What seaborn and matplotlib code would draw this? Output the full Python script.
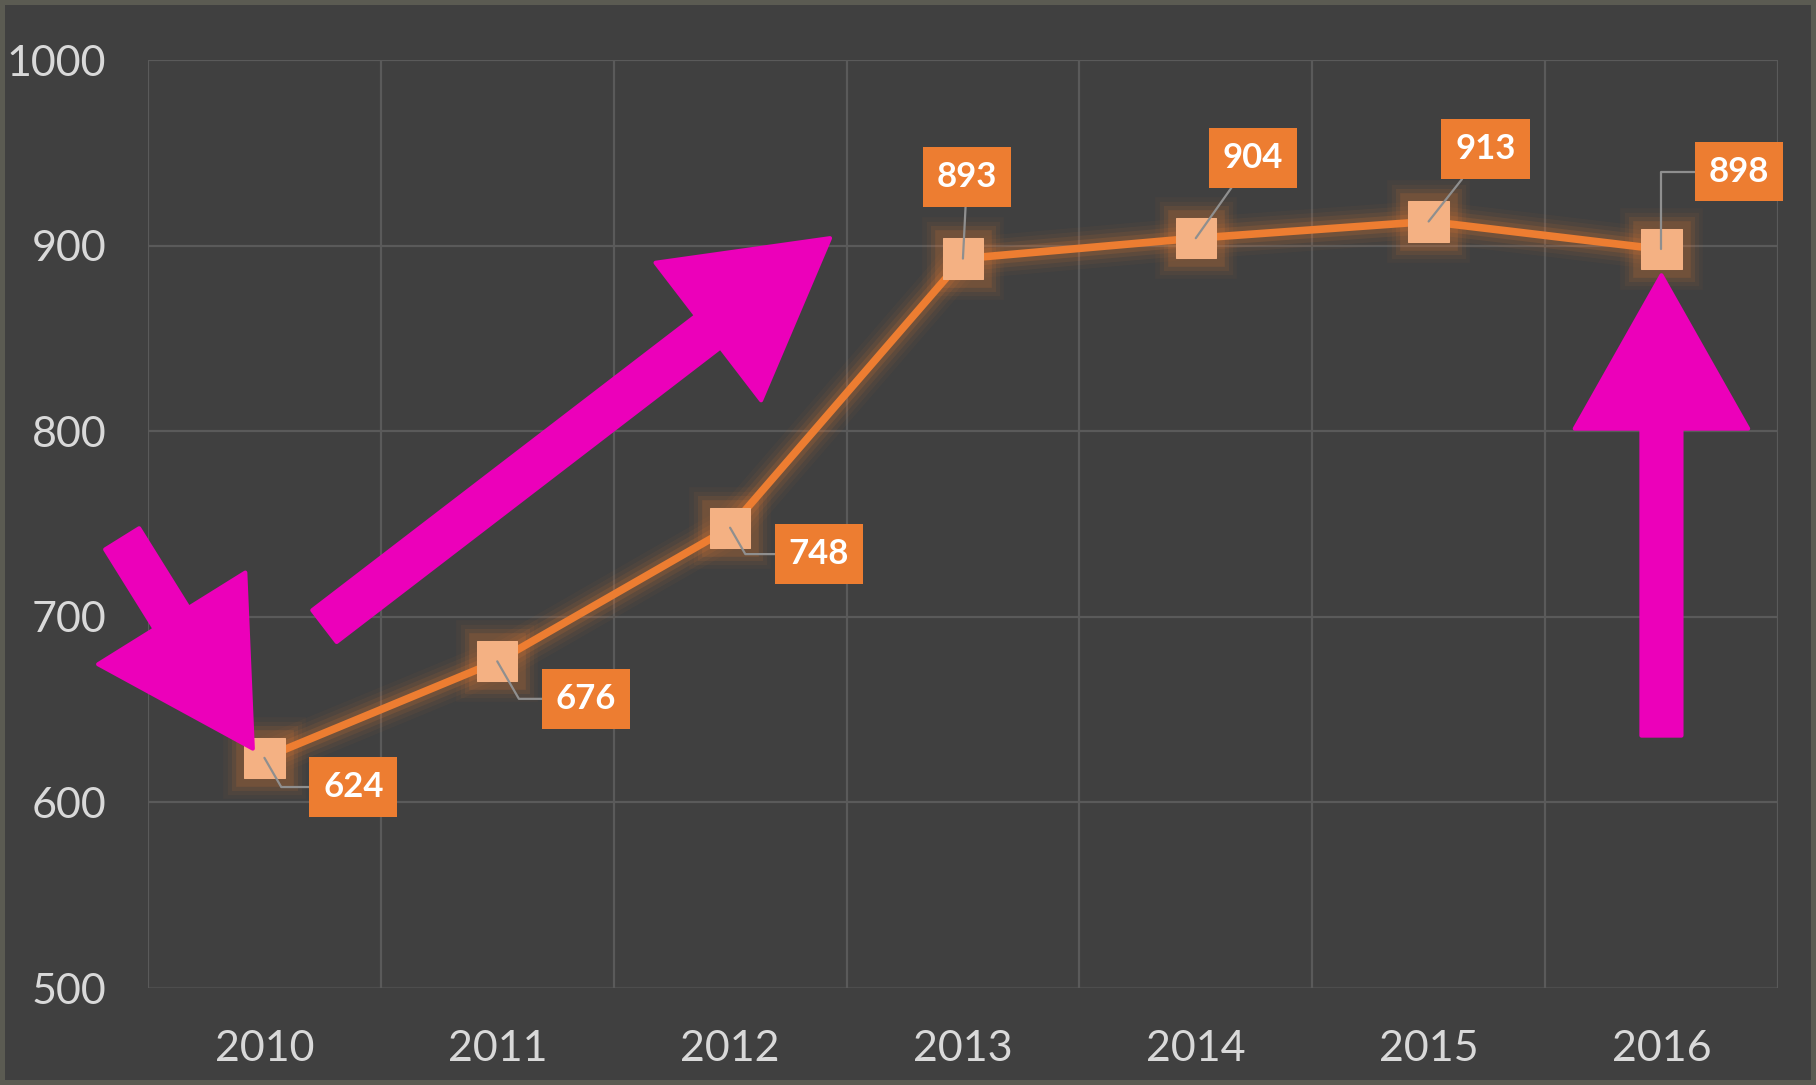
import matplotlib
matplotlib.use('Agg')

import matplotlib.pyplot as plt
import matplotlib.patheffects as pe
import pandas as pd
import seaborn as sns

years = ['2010', '2011', '2012', '2013', '2014', '2015', '2016']
values = [624, 676, 748, 893, 904, 913, 898]
y_ticks = [500, 600, 700, 800, 900, 1000]

# where each value box sits relative to its point (offset points) and how the leader bends
label_offsets = [(64, -21), (64, -27), (64, -19), (3, 59), (41, 58), (41, 52), (56, 56)]
leader_styles = ['angle,angleA=0,angleB=-60,rad=0', 'angle,angleA=0,angleB=-60,rad=0',
                 'angle,angleA=0,angleB=-60,rad=0', 'arc3', 'arc3', 'arc3',
                 'angle,angleA=0,angleB=90,rad=0']

# the three pink callout arrows (tail, tip) in data units
callouts = [((-0.611, 742), (-0.05, 629)),
            ((0.258, 695), (2.429, 904)),
            ((6.0, 636), (6.0, 884))]

BG = '#404040'
ORANGE = '#ED7D31'
PEACH = '#F4B183'
PINK = '#EC00BA'
GRID = '#5a5a5a'
TEXT = '#d9d9d9'

sns.set_theme(style='dark')
plt.rcParams['font.family'] = ['Lato', 'DejaVu Sans']

df = pd.DataFrame({'year': years, 'value': values})

fig = plt.figure(figsize=(18.16, 10.85), dpi=100, facecolor=BG)
fig.patch.set_edgecolor('#5b5b52')
fig.patch.set_linewidth(6)
ax = fig.add_axes([0.0815, 0.0894, 0.8975, 0.8553])
ax.set_facecolor(BG)

sns.lineplot(data=df, x='year', y='value', ax=ax, sort=False,
             color=ORANGE, linewidth=5.5, marker='s', markersize=29,
             markerfacecolor=PEACH, markeredgecolor=PEACH, zorder=3)
line = ax.lines[0]
# soft orange glow
glow = [pe.Stroke(linewidth=w, foreground=ORANGE, alpha=a)
        for w, a in [(30, 0.04), (24, 0.06), (18, 0.09), (12, 0.14)]]
line.set_path_effects(glow + [pe.Normal()])

ax.set_xlim(-0.5, len(years) - 0.5)
ax.set_ylim(500, 1000)
ax.set_yticks(y_ticks)
ax.set_xticks(range(len(years)))
ax.set_xticklabels(years)
ax.set_xticks([i - 0.5 for i in range(len(years) + 1)], minor=True)
ax.set_xlabel('')
ax.set_ylabel('')

ax.grid(False)
ax.grid(axis='y', which='major', color=GRID, linewidth=1.6)
ax.grid(axis='x', which='minor', color=GRID, linewidth=1.6)
ax.get_ygridlines()[0].set_alpha(0.5)
for s in ax.spines.values():
    s.set_visible(False)
ax.tick_params(axis='both', which='both', length=0, labelsize=31, colors=TEXT)
ax.tick_params(axis='y', pad=30)
ax.tick_params(axis='x', pad=30)

for i, v in enumerate(values):
    ax.annotate(str(v), xy=(i, v), xytext=label_offsets[i], textcoords='offset points',
                ha='center', va='center', fontsize=25, fontweight='bold', color='white',
                bbox=dict(boxstyle='square,pad=0.4', fc=ORANGE, ec='none'),
                arrowprops=dict(arrowstyle='-', color='#8f8f8f', lw=1.6,
                                shrinkA=0, shrinkB=0, connectionstyle=leader_styles[i]),
                zorder=5)

for tail, tip in callouts:
    ax.annotate('', xy=tip, xytext=tail, annotation_clip=False,
                arrowprops=dict(arrowstyle='simple,head_length=2.3,head_width=2.6,tail_width=0.6',
                                mutation_scale=48, fc=PINK, ec=PINK, lw=3,
                                joinstyle='round', shrinkA=0, shrinkB=0),
                zorder=4)

fig.savefig('out.png', dpi=100, facecolor=fig.get_facecolor(), edgecolor=fig.patch.get_edgecolor())
